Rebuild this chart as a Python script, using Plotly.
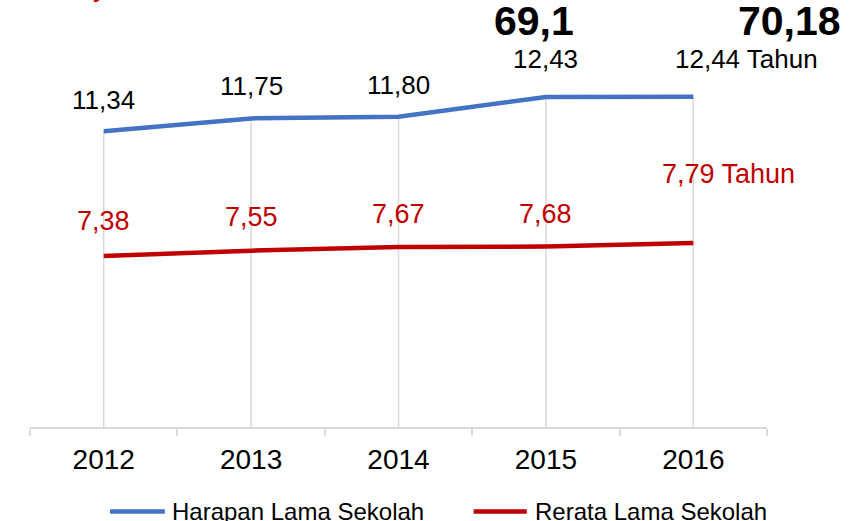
import plotly.graph_objects as go

years = ["2012", "2013", "2014", "2015", "2016"]
harapan = [11.34, 11.75, 11.80, 12.43, 12.44]
rerata = [7.38, 7.55, 7.67, 7.68, 7.79]
harapan_labels = ["11,34", "11,75", "11,80", "12,43", "12,44 Tahun"]
rerata_labels = ["7,38", "7,55", "7,67", "7,68", "7,79 Tahun"]
series_names = ["Harapan Lama Sekolah", "Rerata Lama Sekolah"]
top_values = ["69,1", "70,18"]
top_years = ["2015", "2016"]

BLUE = "#4472c4"
RED = "#c00000"
GRID = "#d9d9d9"
FONT = "Liberation Sans, Arial, sans-serif"

fig = go.Figure()

# drop lines from the highest series down to the axis
dx, dy = [], []
for yr, v in zip(years, harapan):
    dx += [yr, yr, None]
    dy += [v, 0, None]
fig.add_trace(go.Scatter(x=dx, y=dy, mode="lines",
                         line=dict(color=GRID, width=1.5),
                         hoverinfo="skip", showlegend=False))

fig.add_trace(go.Scatter(x=years, y=harapan, mode="lines", name=series_names[0],
                         line=dict(color=BLUE, width=4.5), showlegend=False))
fig.add_trace(go.Scatter(x=years, y=rerata, mode="lines", name=series_names[1],
                         line=dict(color=RED, width=4.5), showlegend=False))

annotations = []
h_shift = [(0, 31), (0, 32), (0, 32), (0, 38), (53, 38)]
for i, (v, lab, (xs, ys)) in enumerate(zip(harapan, harapan_labels, h_shift)):
    annotations.append(dict(x=i, y=v, xref="x", yref="y", text=lab, showarrow=False,
                            xanchor="center", yanchor="middle", xshift=xs, yshift=ys,
                            font=dict(family=FONT, size=26, color="black")))
r_shift = [(0, 35), (0, 34), (0, 33), (0, 33), (35, 69)]
for i, (v, lab, (xs, ys)) in enumerate(zip(rerata, rerata_labels, r_shift)):
    annotations.append(dict(x=i, y=v, xref="x", yref="y", text=lab, showarrow=False,
                            xanchor="center", yanchor="middle", xshift=xs, yshift=ys,
                            font=dict(family=FONT, size=27, color=RED)))

for yr, lab, xs in zip(top_years, top_values, [-12, 96]):
    annotations.append(dict(x=years.index(yr), y=1.0, xref="x", yref="paper",
                            text="<b>" + lab + "</b>",
                            showarrow=False, xanchor="center", yanchor="top", xshift=xs,
                            yshift=4,
                            font=dict(family=FONT, size=41, color="black")))

# partially visible red text at the top-left edge
annotations.append(dict(x=0.095, y=0.986, xref="paper", yref="paper", text="y",
                        showarrow=False, xanchor="center", yanchor="bottom", yshift=2,
                        font=dict(family=FONT, size=28, color=RED)))

# manual legend
legend_y = -0.198
leg = [(0.1085, 0.183, 0.1898, BLUE, series_names[0]),
       (0.602, 0.674, 0.682, RED, series_names[1])]
shapes = []
for x0, x1, xt, col, name in leg:
    shapes.append(dict(type="line", xref="paper", yref="paper", x0=x0, x1=x1,
                       y0=legend_y, y1=legend_y, line=dict(color=col, width=4.5)))
    annotations.append(dict(x=xt, y=legend_y, xref="paper", yref="paper", text=name,
                            showarrow=False, xanchor="left", yanchor="middle",
                            font=dict(family=FONT, size=24, color="black")))

fig.update_layout(
    width=854, height=521,
    margin=dict(l=30, r=86.5, t=0, b=94, autoexpand=False),
    paper_bgcolor="white", plot_bgcolor="white",
    showlegend=False,
    annotations=annotations,
    shapes=shapes,
    font=dict(family=FONT),
)
fig.update_xaxes(type="category", categoryorder="array", categoryarray=years,
                 range=[-0.5, 4.5], showgrid=False, showline=True, linecolor=GRID,
                 linewidth=1.5, ticks="outside", tickson="boundaries", ticklen=7,
                 tickcolor=GRID, tickwidth=1.5, zeroline=False, ticklabelstandoff=7,
                 tickfont=dict(family=FONT, size=28, color="black"))
fig.update_yaxes(visible=False, range=[1.95, 15.51], showgrid=False, zeroline=False)

fig.write_html("out.html", config={"displayModeBar": False},
               post_script="document.body.style.margin='0';document.body.style.overflow='hidden';")
